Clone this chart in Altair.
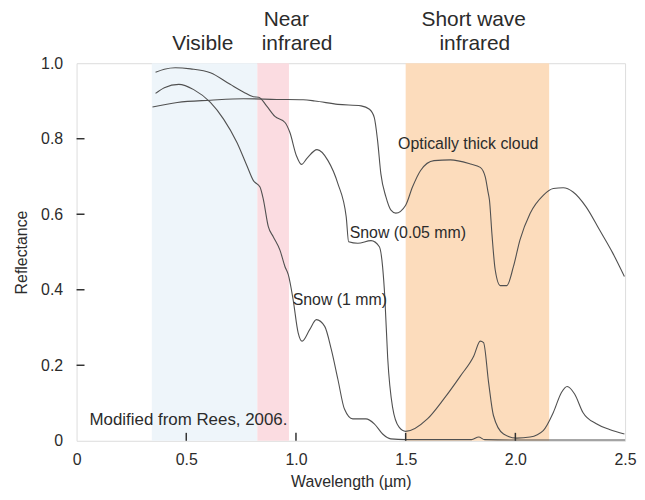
import altair as alt
import pandas as pd

# ---- data ----
snow005_x = [0.36, 0.40, 0.45, 0.52, 0.61, 0.70, 0.76, 0.806, 0.83, 0.866, 0.904, 0.95, 0.972, 1.002,
             1.025, 1.05, 1.096, 1.146, 1.191, 1.229, 1.24, 1.282, 1.342, 1.38, 1.395, 1.405, 1.418,
             1.44, 1.47, 1.50, 1.599, 1.674, 1.75, 1.81, 1.84, 1.855, 1.878, 1.90, 1.946, 2.006,
             2.067, 2.127, 2.173, 2.21, 2.236, 2.27, 2.308, 2.369, 2.429, 2.497]
snow005_y = [0.976, 0.984, 0.988, 0.985, 0.975, 0.944, 0.924, 0.911, 0.91, 0.887, 0.859, 0.843, 0.817, 0.755,
             0.732, 0.748, 0.771, 0.742, 0.681, 0.593, 0.527, 0.523, 0.53, 0.514, 0.46, 0.38, 0.22,
             0.09, 0.036, 0.025, 0.058, 0.111, 0.172, 0.224, 0.264, 0.26, 0.154, 0.067, 0.018, 0.007,
             0.01, 0.027, 0.075, 0.128, 0.144, 0.124, 0.075, 0.045, 0.030, 0.018]

snow1_x = [0.36, 0.40, 0.466, 0.534, 0.61, 0.67, 0.731, 0.776, 0.806, 0.836, 0.851, 0.874, 0.897, 0.927,
           0.95, 0.965, 0.987, 1.01, 1.028, 1.063, 1.093, 1.131, 1.161, 1.191, 1.221, 1.259, 1.319,
           1.357, 1.395, 1.432, 1.5, 1.8, 1.833, 1.86, 2.0, 2.5]
snow1_y = [0.92, 0.935, 0.944, 0.93, 0.896, 0.852, 0.79, 0.729, 0.689, 0.672, 0.64, 0.567, 0.54, 0.505,
           0.461, 0.44, 0.374, 0.286, 0.264, 0.295, 0.321, 0.303, 0.242, 0.163, 0.084, 0.058, 0.058,
           0.045, 0.018, 0.005, 0.003, 0.003, 0.01, 0.003, 0.002, 0.002]

cloud_x = [0.346, 0.459, 0.61, 0.761, 0.912, 1.033, 1.086, 1.191, 1.297, 1.335, 1.357, 1.372, 1.387, 1.41,
           1.433, 1.455, 1.50, 1.531, 1.568, 1.629, 1.704, 1.795, 1.84, 1.863, 1.875, 1.882, 1.893,
           1.908, 1.931, 1.961, 1.991, 2.021, 2.067, 2.127, 2.173, 2.218, 2.263, 2.323, 2.384, 2.444, 2.497]
cloud_y = [0.884, 0.896, 0.902, 0.906, 0.904, 0.903, 0.90, 0.891, 0.887, 0.878, 0.856, 0.795, 0.707, 0.646,
           0.611, 0.603, 0.624, 0.672, 0.716, 0.742, 0.744, 0.733, 0.724, 0.698, 0.66, 0.637, 0.549,
           0.453, 0.411, 0.411, 0.461, 0.532, 0.602, 0.65, 0.668, 0.670, 0.659, 0.619, 0.558, 0.497, 0.435]

band_names = ["Visible", "Near infrared", "Short wave infrared"]
band_start = [0.343, 0.824, 1.50]
band_end = [0.824, 0.968, 2.154]
band_colors = ["#EEF5FA", "#FBDCE1", "#FCDCBC"]

header_top_text = ["Near", "Short wave"]
header_top_x = [0.956, 1.81]
header_bottom_text = ["Visible", "infrared", "infrared"]
header_bottom_x = [0.575, 1.005, 1.815]

curve_labels = ["Optically thick cloud", "Snow (0.05 mm)", "Snow (1 mm)"]
curve_label_x = [1.785, 1.51, 1.20]
curve_label_y = [0.786, 0.549, 0.374]

note_text = "Modified from Rees, 2006."

x_ticks = [0.5, 1.0, 1.5, 2.0]
y_ticks = [0.2, 0.4, 0.6, 0.8]

# ---- tables ----
lines = pd.concat([
    pd.DataFrame({"wl": snow005_x, "refl": snow005_y, "series": "Snow (0.05 mm)"}),
    pd.DataFrame({"wl": snow1_x, "refl": snow1_y, "series": "Snow (1 mm)"}),
    pd.DataFrame({"wl": cloud_x, "refl": cloud_y, "series": "Optically thick cloud"}),
])
bands = pd.DataFrame({"name": band_names, "start": band_start, "end": band_end})
htop = pd.DataFrame({"text": header_top_text, "wl": header_top_x})
hbot = pd.DataFrame({"text": header_bottom_text, "wl": header_bottom_x})
clabels = pd.DataFrame({"text": curve_labels, "wl": curve_label_x, "refl": curve_label_y})
note = pd.DataFrame({"text": [note_text], "wl": [0.059], "refl": [0.055]})
xt = pd.DataFrame({"wl": x_ticks})
yt = pd.DataFrame({"refl": y_ticks})

FONT = "Liberation Sans"
TXT = "#2b2b2b"
W, H = 552, 380

xscale = alt.Scale(domain=[0, 2.5], nice=False, zero=False)
yscale = alt.Scale(domain=[0, 1], nice=False)

xaxis = alt.Axis(values=[0, 0.5, 1.0, 1.5, 2.0, 2.5],
                 labelExpr="datum.value == 0 ? '0' : format(datum.value, '.1f')",
                 ticks=False, domain=False, grid=False, labelPadding=11,
                 labelFontSize=16, labelFont=FONT, labelColor=TXT,
                 title="Wavelength (µm)", titleFontSize=16, titleFont=FONT,
                 titleFontWeight="normal", titleColor=TXT, titlePadding=6,
                 labelFlush=False)
yaxis = alt.Axis(values=[0, 0.2, 0.4, 0.6, 0.8, 1.0],
                 labelExpr="datum.value == 0 ? '0' : format(datum.value, '.1f')",
                 ticks=False, domain=False, grid=False, labelPadding=14,
                 labelFontSize=16, labelFont=FONT, labelColor=TXT,
                 title="Reflectance", titleFontSize=16, titleFont=FONT,
                 titleFontWeight="normal", titleColor=TXT, titlePadding=11,
                 labelFlush=False)

band_layer = alt.Chart(bands).mark_rect().encode(
    x=alt.X("start:Q", scale=xscale, axis=xaxis),
    x2="end:Q",
    y=alt.value(0),
    y2=alt.value(H),
    color=alt.Color("name:N", scale=alt.Scale(domain=band_names, range=band_colors), legend=None),
)

line_layer = alt.Chart(lines).mark_line(color="#505050", strokeWidth=1.1, interpolate="monotone").encode(
    x=alt.X("wl:Q", scale=xscale, axis=xaxis),
    y=alt.Y("refl:Q", scale=yscale, axis=yaxis),
    detail="series:N",
)

xtick_layer = alt.Chart(xt).mark_rule(color="#333333", strokeWidth=1.5).encode(
    x=alt.X("wl:Q", scale=xscale),
    y=alt.value(H),
    y2=alt.value(H - 8),
)
ytick_layer = alt.Chart(yt).mark_rule(color="#333333", strokeWidth=1.5).encode(
    y=alt.Y("refl:Q", scale=yscale),
    x=alt.value(0),
    x2=alt.value(8),
)

htop_layer = alt.Chart(htop).mark_text(
    font=FONT, fontSize=21, color=TXT, align="center", baseline="middle"
).encode(
    x=alt.X("wl:Q", scale=xscale),
    y=alt.value(-43),
    text="text:N",
)
hbot_layer = alt.Chart(hbot).mark_text(
    font=FONT, fontSize=21, color=TXT, align="center", baseline="middle"
).encode(
    x=alt.X("wl:Q", scale=xscale),
    y=alt.value(-19),
    text="text:N",
)

clabel_layer = alt.Chart(clabels).mark_text(
    font=FONT, fontSize=16, color=TXT, align="center", baseline="middle"
).encode(
    x=alt.X("wl:Q", scale=xscale),
    y=alt.Y("refl:Q", scale=yscale),
    text="text:N",
)

note_layer = alt.Chart(note).mark_text(
    font=FONT, fontSize=17, color=TXT, align="left", baseline="middle"
).encode(
    x=alt.X("wl:Q", scale=xscale),
    y=alt.Y("refl:Q", scale=yscale),
    text="text:N",
)

chart = alt.layer(
    band_layer, line_layer, xtick_layer, ytick_layer, clabel_layer, note_layer, htop_layer, hbot_layer
).properties(
    width=W, height=H,
    autosize=alt.AutoSizeParams(type="none"),
    padding={"left": 69, "top": 54, "right": 12, "bottom": 53},
).configure_view(
    stroke="#333333", strokeWidth=2
).configure(background="white")

chart.save("out.html", embed_options={"renderer": "svg", "actions": False})
